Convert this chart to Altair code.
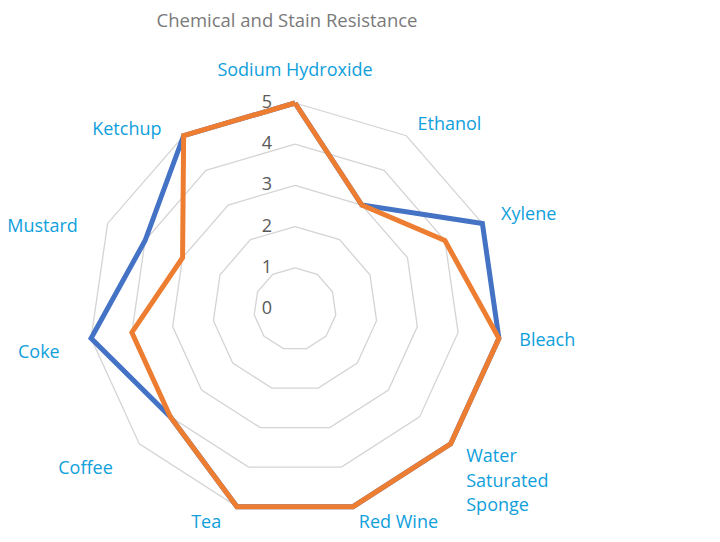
import altair as alt
import pandas as pd

categories = ["Sodium Hydroxide", "Ethanol", "Xylene", "Bleach", "Water Saturated Sponge",
              "Red Wine", "Tea", "Coffee", "Coke", "Mustard", "Ketchup"]
one_hour = [5, 3, 5, 5, 5, 5, 5, 4, 5, 4, 5]
twenty_four_hours = [5, 3, 4, 5, 5, 5, 5, 4, 4, 3, 5]
series_names = ["1 Hour", "24 Hours"]
ring_levels = [1, 2, 3, 4, 5]
tick_labels = [0, 1, 2, 3, 4, 5]
title_text = "Chemical and Stain Resistance"

N = len(categories)
rows = []
for s, vals in zip(series_names, [one_hour, twenty_four_hours]):
    for k in range(N + 1):
        i = k % N
        rows.append({"series": s, "idx": i, "ord": k, "value": vals[i], "category": categories[i]})
series_df = pd.DataFrame(rows)

ring_df = pd.DataFrame([{"level": L, "idx": k % N, "ord": k} for L in ring_levels for k in range(N + 1)])
label_df = pd.DataFrame({
    "category": categories,
    "idx": list(range(N)),
    "label": [c.replace(" Saturated ", "\nSaturated\n") for c in categories],
})
tick_df = pd.DataFrame({"tick": tick_labels})
legend_df = pd.DataFrame({"key": series_names})

ANG = f"datum.idx * 2 * PI / {N}"
U = 41.2
W, H = 704, 526
CX, CY = 287, 301
xs = alt.Scale(domain=[-CX / U, (W - CX) / U], nice=False, zero=False)
ys = alt.Scale(domain=[-(H - CY) / U, CY / U], nice=False, zero=False)
X = lambda f: alt.X(f, type="quantitative", scale=xs, axis=None)
Y = lambda f: alt.Y(f, type="quantitative", scale=ys, axis=None)

BLUE, ORANGE = "#4472C4", "#ED7D31"
LABEL_BLUE = "#0FA0DC"
FONT = "Open Sans"
FS = 18

rings = alt.Chart(ring_df).transform_calculate(
    a=ANG, px="datum.level*sin(datum.a)", py="datum.level*cos(datum.a)"
).mark_line(color="#d4d4d4", strokeWidth=1.3).encode(
    x=X("px"), y=Y("py"), detail="level:N", order="ord:Q"
)

lines = alt.Chart(series_df).transform_calculate(
    a=ANG, px="datum.value*sin(datum.a)", py="datum.value*cos(datum.a)"
).mark_line(strokeWidth=5, strokeJoin="miter").encode(
    x=X("px"), y=Y("py"),
    color=alt.Color("series:N", scale=alt.Scale(domain=series_names, range=[BLUE, ORANGE]),
                    legend=alt.Legend(title=None, orient="none", legendX=3000, legendY=3000,
                                      labelOpacity=0, symbolOpacity=0)),
    order="ord:Q",
)

legend_layer = alt.Chart(legend_df).transform_calculate(z="0").mark_square(size=0, opacity=1).encode(
    x=X("z"), y=Y("z"),
    fill=alt.Fill("key:N", scale=alt.Scale(domain=series_names, range=[BLUE, ORANGE]),
                  legend=alt.Legend(title=None, orient="none", legendX=612, legendY=458,
                                    symbolType="square", symbolSize=170, symbolStrokeWidth=0,
                                    symbolOpacity=1,
                                    labelFontSize=FS, labelColor="#595959", labelFont=FONT,
                                    rowPadding=13, labelOffset=8, padding=0)),
)

ticks = alt.Chart(tick_df).transform_calculate(zero="0").mark_text(
    align="right", baseline="middle", dx=-23, fontSize=FS, font=FONT, color="#595959"
).encode(x=alt.X("zero:Q", scale=xs, axis=None), y=Y("tick"), text="tick:N")

LR = 5.5
def label_layer(cond, align, dx=0, dy=0):
    return alt.Chart(label_df).transform_calculate(
        a=ANG, s="sin(datum.a)", c="cos(datum.a)", px=f"{LR}*sin(datum.a)", py=f"{LR}*cos(datum.a)"
    ).transform_filter(cond).mark_text(
        align=align, baseline="middle", fontSize=FS, font=FONT, color=LABEL_BLUE,
        lineBreak="\n", lineHeight=24.5, dx=dx, dy=dy
    ).encode(x=X("px"), y=Y("py"), text="label:N")

labels_left_top = label_layer("datum.s > 0.15 && datum.c > 0.5", "left", dy=7)
labels_left = label_layer("datum.s > 0.15 && datum.c <= 0.5 && datum.c > -0.9", "left")
labels_bottom_r = label_layer("datum.s > 0.15 && datum.c <= -0.9", "left", dy=-3)
labels_bottom_l = label_layer("datum.s < -0.15 && datum.s > -0.5", "right", dx=-10, dy=-3)
labels_right = label_layer("datum.s <= -0.5", "right", dx=-11, dy=12)
labels_center = label_layer("abs(datum.s) <= 0.15", "center", dy=-11)

title = alt.Chart(alt.Data(values=[{"t": title_text}])).mark_text(
    fontSize=18.5, font=FONT, color="#7a7a7a", align="center", baseline="middle"
).encode(x=alt.value(279), y=alt.value(13), text="t:N")

chart = alt.layer(rings, lines, legend_layer, ticks, labels_left_top, labels_left, labels_bottom_r,
                  labels_bottom_l, labels_right, labels_center, title).properties(
    width=W, height=H, padding=0, autosize=alt.AutoSizeParams(type="none")
).configure_view(stroke=None)

chart.save("out.html", embed_options={"renderer": "svg", "actions": False})
